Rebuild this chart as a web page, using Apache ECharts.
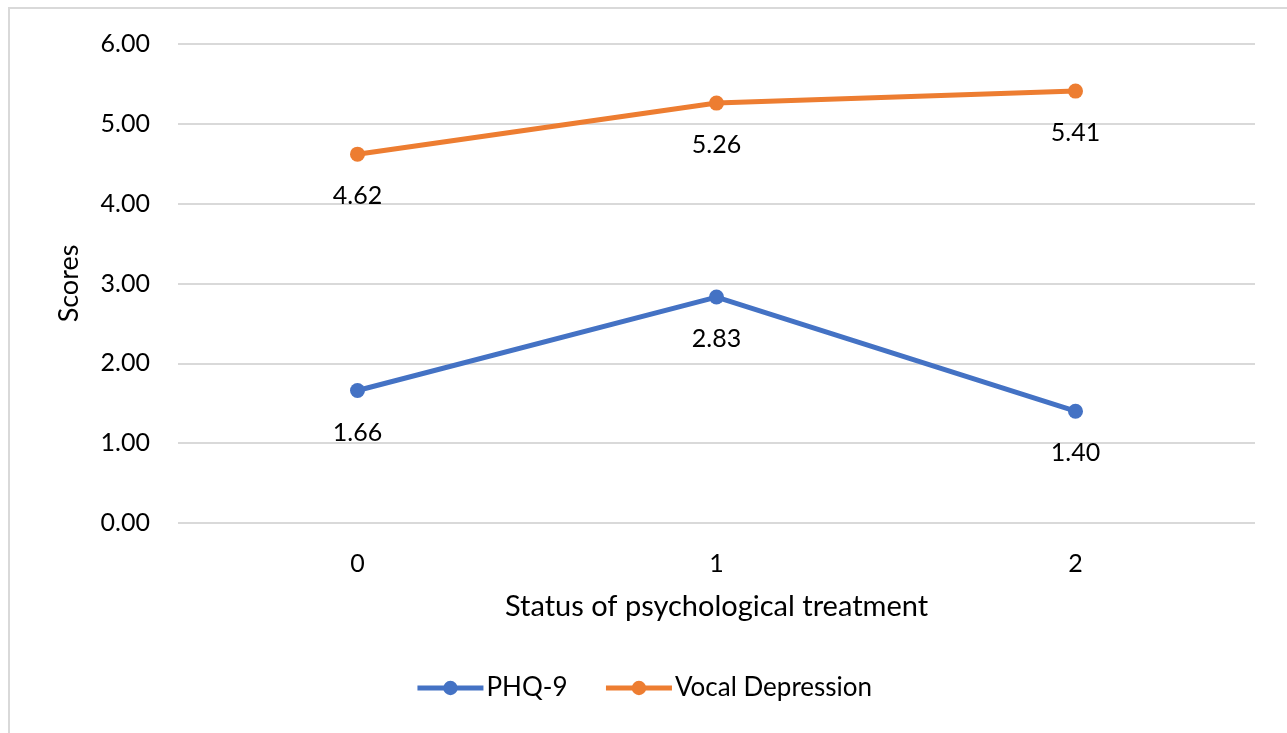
<!DOCTYPE html>
<html>
<head>
<meta charset="utf-8">
<style>
  html, body { margin: 0; padding: 0; background: #fff; }
  #chart { width: 1287px; height: 733px; }
</style>
<script src="https://cdn.jsdelivr.net/npm/echarts@6/dist/echarts.min.js"></script>
</head>
<body>
<div id="chart"></div>
<script>
// Treatment status categories and scores per instrument
const categories = ['0', '1', '2'];
const phq9 = [1.66, 2.83, 1.40];
const vocalDepression = [4.62, 5.26, 5.41];
const yTicks = { min: 0, max: 6, interval: 1 };

const FONT = 'Lato, "Open Sans", sans-serif';
const chart = echarts.init(document.getElementById('chart'), null, { renderer: 'canvas' });

function lineSeries(name, data, color) {
  return {
    name: name,
    type: 'line',
    data: data,
    symbol: 'circle',
    symbolSize: 15,
    lineStyle: { width: 5, color: color },
    itemStyle: { color: color },
    label: {
      show: true,
      position: 'bottom',
      distance: 22,
      color: '#000',
      fontSize: 25,
      fontFamily: FONT,
      formatter: p => p.value.toFixed(2)
    },
    emphasis: { disabled: true },
    animation: false
  };
}

chart.setOption({
  backgroundColor: '#fff',
  graphic: [{
    type: 'rect',
    shape: { x: 9, y: 8, width: 1300, height: 740 },
    style: { fill: 'none', stroke: '#d9d9d9', lineWidth: 2 },
    silent: true
  }],
  grid: { left: 178, right: 32, top: 44, bottom: 210 },
  legend: {
    bottom: 27,
    left: 'center',
    itemWidth: 66,
    itemHeight: 18,
    itemGap: 36,
    lineStyle: { width: 5 },
    textStyle: { fontSize: 26, fontFamily: FONT, color: '#000', padding: [0, 0, 0, -2] },
    data: ['PHQ-9', 'Vocal Depression']
  },
  xAxis: {
    type: 'category',
    data: categories,
    boundaryGap: true,
    name: 'Status of psychological treatment',
    nameLocation: 'middle',
    nameGap: 69,
    nameTextStyle: { fontSize: 29, fontFamily: FONT, color: '#000' },
    axisLine: { show: false },
    axisTick: { show: false },
    axisLabel: { fontSize: 25, fontFamily: FONT, color: '#000', margin: 28 }
  },
  yAxis: {
    type: 'value',
    min: yTicks.min,
    max: yTicks.max,
    interval: yTicks.interval,
    name: 'Scores',
    nameLocation: 'middle',
    nameGap: 95,
    nameTextStyle: { fontSize: 27, fontFamily: FONT, color: '#000' },
    axisLine: { show: false },
    axisTick: { show: false },
    axisLabel: { fontSize: 25, fontFamily: FONT, color: '#000', margin: 28, formatter: v => v.toFixed(2) },
    splitLine: { lineStyle: { color: '#d9d9d9', width: 2 } }
  },
  series: [
    lineSeries('PHQ-9', phq9, '#4472C4'),
    lineSeries('Vocal Depression', vocalDepression, '#ED7D31')
  ]
});
</script>
</body>
</html>
